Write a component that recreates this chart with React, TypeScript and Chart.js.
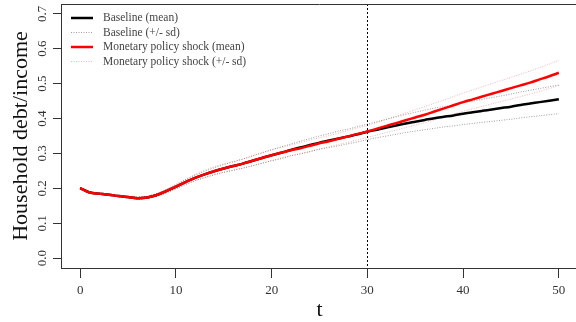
import { useEffect, useRef } from 'react';
import Chart from 'chart.js/auto';

const periods = [0,1,2,3,4,5,6,7,8,9,10,11,12,13,14,15,16,17,18,19,20,21,22,23,24,25,26,27,28,29,30,31,32,33,34,35,36,37,38,39,40,41,42,43,44,45,46,47,48,49,50];

const baselineMean = [0.201,0.188,0.185,0.182,0.178,0.175,0.172,0.174,0.181,0.192,0.205,0.218,0.230,0.240,0.249,0.257,0.264,0.271,0.279,0.287,0.295,0.302,0.310,0.317,0.324,0.331,0.337,0.343,0.349,0.355,0.362,0.368,0.374,0.380,0.386,0.391,0.396,0.401,0.405,0.409,0.414,0.418,0.422,0.426,0.430,0.434,0.439,0.443,0.447,0.451,0.455];
const baselineUpper = [0.203,0.190,0.187,0.184,0.180,0.177,0.175,0.177,0.185,0.197,0.211,0.225,0.238,0.249,0.259,0.268,0.276,0.284,0.293,0.302,0.311,0.319,0.327,0.335,0.343,0.350,0.357,0.364,0.370,0.377,0.384,0.391,0.398,0.405,0.412,0.418,0.424,0.430,0.434,0.439,0.445,0.450,0.455,0.460,0.465,0.470,0.476,0.481,0.486,0.491,0.496];
const baselineLower = [0.199,0.186,0.183,0.180,0.176,0.173,0.169,0.171,0.177,0.187,0.199,0.211,0.222,0.231,0.239,0.246,0.252,0.258,0.265,0.272,0.279,0.285,0.293,0.299,0.305,0.312,0.317,0.322,0.328,0.333,0.340,0.345,0.350,0.355,0.360,0.364,0.368,0.372,0.376,0.379,0.383,0.386,0.389,0.392,0.395,0.398,0.402,0.405,0.408,0.411,0.414];

const shockMean = [0.201,0.188,0.185,0.182,0.178,0.175,0.172,0.174,0.181,0.192,0.205,0.218,0.230,0.240,0.249,0.257,0.264,0.271,0.279,0.287,0.295,0.302,0.309,0.315,0.322,0.329,0.335,0.342,0.349,0.356,0.363,0.371,0.379,0.387,0.395,0.403,0.411,0.420,0.429,0.438,0.447,0.455,0.463,0.471,0.479,0.487,0.495,0.503,0.512,0.521,0.531];
const shockUpper = [0.203,0.190,0.187,0.184,0.180,0.177,0.175,0.177,0.185,0.197,0.211,0.226,0.240,0.252,0.262,0.270,0.277,0.284,0.293,0.302,0.310,0.317,0.324,0.331,0.338,0.345,0.351,0.358,0.366,0.373,0.380,0.389,0.398,0.407,0.416,0.425,0.434,0.444,0.453,0.463,0.473,0.482,0.491,0.500,0.509,0.518,0.527,0.536,0.546,0.556,0.567];
const shockLower = [0.199,0.186,0.183,0.180,0.176,0.173,0.169,0.171,0.177,0.187,0.199,0.211,0.222,0.231,0.239,0.246,0.252,0.258,0.265,0.272,0.280,0.287,0.294,0.299,0.306,0.313,0.319,0.326,0.332,0.339,0.346,0.353,0.360,0.367,0.374,0.381,0.388,0.396,0.405,0.413,0.421,0.428,0.435,0.442,0.449,0.456,0.463,0.470,0.478,0.486,0.495];

const xTicks = [0, 10, 20, 30, 40, 50];
const yTicks = [0, 0.1, 0.2, 0.3, 0.4, 0.5, 0.6, 0.7];
const yTickLabels = ['0.0', '0.1', '0.2', '0.3', '0.4', '0.5', '0.6', '0.7'];
const shockPeriod = 30;

const xTitle = 't';
const yTitle = 'Household debt/income';
const legendLabels = ['Baseline (mean)', 'Baseline (+/- sd)', 'Monetary policy shock (mean)', 'Monetary policy shock (+/- sd)'];

const SERIF = '"Liberation Serif", "DejaVu Serif", serif';
const AXIS = '#333333';
const GREY_SD = 'rgba(0,0,0,0.38)';
const PINK_SD = 'rgba(255,0,0,0.3)';

const pts = (ys: number[]) => periods.map((t, i) => ({ x: t, y: ys[i] }));

const overlay = {
  id: 'overlay',
  beforeDatasetsDraw(chart: any) {
    const { ctx, chartArea } = chart;
    const x = chart.scales.x.getPixelForValue(shockPeriod);
    ctx.save();
    ctx.strokeStyle = '#000';
    ctx.lineWidth = 1;
    ctx.setLineDash([2, 2]);
    ctx.beginPath();
    ctx.moveTo(Math.round(x) + 0.5, chartArea.top);
    ctx.lineTo(Math.round(x) + 0.5, chartArea.bottom);
    ctx.stroke();
    ctx.restore();
  },
  afterDraw(chart: any) {
    const { ctx, chartArea } = chart;
    const ys = chart.scales.y;
    ctx.save();
    ctx.strokeStyle = AXIS;
    ctx.lineWidth = 1;
    ctx.beginPath();
    ctx.moveTo(chartArea.left, chartArea.top + 0.5);
    ctx.lineTo(chartArea.right, chartArea.top + 0.5);
    ctx.lineTo(chartArea.right - 0.5, chartArea.bottom);
    ctx.stroke();
    ctx.fillStyle = AXIS;
    ctx.font = '13px ' + SERIF;
    ctx.textAlign = 'center';
    ctx.textBaseline = 'middle';
    yTicks.forEach((v, i) => {
      const py = ys.getPixelForValue(v);
      ctx.save();
      ctx.translate(43, py);
      ctx.rotate(-Math.PI / 2);
      ctx.fillText(yTickLabels[i], 0, 0);
      ctx.restore();
    });
    ctx.fillStyle = '#111';
    ctx.font = '22px ' + SERIF;
    ctx.save();
    ctx.translate(21, (chartArea.top + chartArea.bottom) / 2);
    ctx.rotate(-Math.PI / 2);
    ctx.fillText(yTitle, 0, 0);
    ctx.restore();
    ctx.font = '22px ' + SERIF;
    ctx.fillText(xTitle, (chartArea.left + chartArea.right) / 2, 310);
    const lx0 = chartArea.left + 10;
    const lx1 = chartArea.left + 32;
    const tx = chartArea.left + 42;
    const rowY = [18, 32.5, 47, 61.5];
    const styles = [
      { c: '#000', w: 2.5, d: [] as number[] },
      { c: GREY_SD, w: 1, d: [1, 1.5] },
      { c: '#ff0000', w: 2.5, d: [] as number[] },
      { c: PINK_SD, w: 1, d: [1, 1.5] },
    ];
    ctx.textAlign = 'left';
    ctx.font = '11.5px ' + SERIF;
    legendLabels.forEach((lab, i) => {
      const s = styles[i];
      ctx.strokeStyle = s.c;
      ctx.lineWidth = s.w;
      ctx.setLineDash(s.d);
      ctx.beginPath();
      ctx.moveTo(lx0, rowY[i]);
      ctx.lineTo(lx1, rowY[i]);
      ctx.stroke();
      ctx.setLineDash([]);
      ctx.fillStyle = '#444';
      ctx.fillText(lab, tx, rowY[i]);
    });
    ctx.restore();
  },
};

export default function App() {
  const ref = useRef<HTMLCanvasElement | null>(null);
  useEffect(() => {
    document.body.style.margin = '0';
    const canvas = ref.current;
    if (!canvas) return;
    const chart = new Chart(canvas, {
      type: 'line',
      data: {
        datasets: [
          { label: legendLabels[2], data: pts(shockMean), borderColor: '#ff0000', borderWidth: 2.5, pointRadius: 0, fill: false, cubicInterpolationMode: 'monotone', order: 0 },
          { label: legendLabels[0], data: pts(baselineMean), borderColor: '#000', borderWidth: 2.5, pointRadius: 0, fill: false, cubicInterpolationMode: 'monotone', order: 1 },
          { label: legendLabels[3], data: pts(shockUpper), borderColor: PINK_SD, borderWidth: 1, borderDash: [1, 1.5], pointRadius: 0, fill: false, order: 2 },
          { label: legendLabels[3], data: pts(shockLower), borderColor: PINK_SD, borderWidth: 1, borderDash: [1, 1.5], pointRadius: 0, fill: false, order: 2 },
          { label: legendLabels[1], data: pts(baselineUpper), borderColor: GREY_SD, borderWidth: 1, borderDash: [1, 1.5], pointRadius: 0, fill: false, order: 3 },
          { label: legendLabels[1], data: pts(baselineLower), borderColor: GREY_SD, borderWidth: 1, borderDash: [1, 1.5], pointRadius: 0, fill: false, order: 3 },
        ],
      },
      options: {
        animation: false,
        responsive: false,
        maintainAspectRatio: false,
        layout: { padding: { top: 4, right: 0, left: 0, bottom: 0 } },
        plugins: { legend: { display: false }, tooltip: { enabled: false } },
        scales: {
          x: {
            type: 'linear',
            min: -2,
            max: 52,
            afterBuildTicks: (s: any) => { s.ticks = xTicks.map((v) => ({ value: v })); },
            afterFit: (s: any) => { s.height = 54; },
            ticks: { font: { family: SERIF, size: 13 }, color: AXIS, padding: 5, maxRotation: 0, autoSkip: false },
            grid: { display: true, drawOnChartArea: false, drawTicks: true, tickLength: 10, color: AXIS },
            border: { display: true, color: AXIS, width: 1 },
          },
          y: {
            type: 'linear',
            min: -0.028,
            max: 0.728,
            afterBuildTicks: (s: any) => { s.ticks = yTicks.map((v) => ({ value: v })); },
            afterFit: (s: any) => { s.width = 61; },
            ticks: { display: false },
            grid: { display: true, drawOnChartArea: false, drawTicks: true, tickLength: 8, color: AXIS },
            border: { display: true, color: AXIS, width: 1 },
          },
        },
      },
      plugins: [overlay],
    });
    return () => chart.destroy();
  }, []);
  return (
    <div style={{ position: 'fixed', left: 0, top: 0, width: 576, height: 322, overflow: 'hidden' }}>
      <canvas ref={ref} width={578} height={322} style={{ width: 578, height: 322, display: 'block' }} />
    </div>
  );
}
